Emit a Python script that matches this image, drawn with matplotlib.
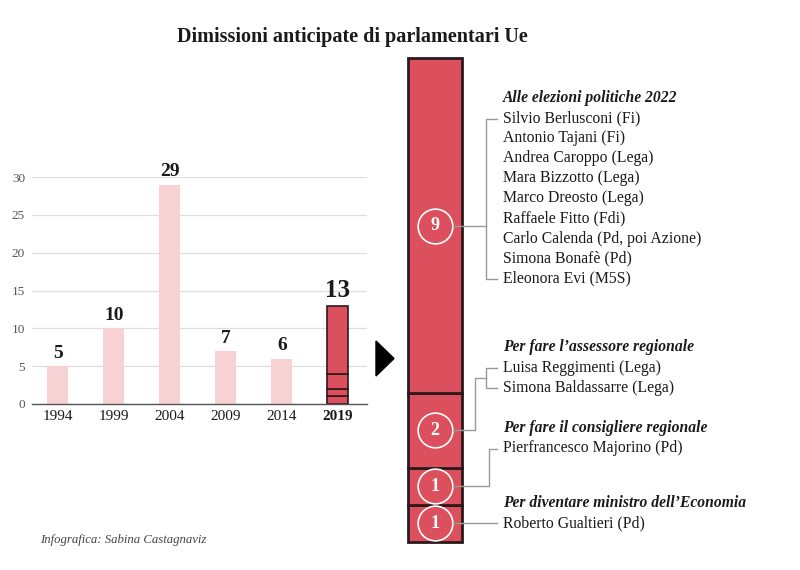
import matplotlib
matplotlib.use('Agg')
import matplotlib.pyplot as plt
from matplotlib.lines import Line2D
from matplotlib.patches import Polygon

# ---------------- data ----------------
years = ['1994', '1999', '2004', '2009', '2014', '2019']
dimissioni = [5, 10, 29, 7, 6, 13]
yticks = [0, 5, 10, 15, 20, 25, 30]

# 2019 breakdown, from bottom to top
motivi = ['Per diventare ministro dell\u2019Economia',
          'Per fare il consigliere regionale',
          'Per fare l\u2019assessore regionale',
          'Alle elezioni politiche 2022']
conteggi = [1, 1, 2, 9]
nomi = [
    ['Roberto Gualtieri (Pd)'],
    ['Pierfrancesco Majorino (Pd)'],
    ['Luisa Reggimenti (Lega)', 'Simona Baldassarre (Lega)'],
    ['Silvio Berlusconi (Fi)', 'Antonio Tajani (Fi)', 'Andrea Caroppo (Lega)',
     'Mara Bizzotto (Lega)', 'Marco Dreosto (Lega)', 'Raffaele Fitto (Fdi)',
     'Carlo Calenda (Pd, poi Azione)', 'Simona Bonaf\u00e8 (Pd)', 'Eleonora Evi (M5S)'],
]

title = 'Dimissioni anticipate di parlamentari Ue'
credit = 'Infografica: Sabina Castagnaviz'

# ---------------- style ----------------
PINK = '#f7d1d4'
RED = '#dc4f5d'
EDGE = '#2b1a1c'
GRID = '#dedede'
TXT = '#1a1a1a'
LINE = '#9a9a9a'
SERIF = ['Liberation Serif', 'DejaVu Serif']
plt.rcParams['font.family'] = SERIF

W, H = 800, 570
fig = plt.figure(figsize=(W / 100, H / 100), dpi=100)
fig.patch.set_facecolor('white')


def fx(x):
    return x / W


def fy(y):
    return 1 - y / H


# ---------------- left bar chart ----------------
ax = fig.add_axes([fx(32), fy(404), (367 - 32) / W, (404 - 177) / H])
xs = list(range(len(years)))
bw = 0.375
ax.bar(xs[:-1], dimissioni[:-1], width=bw, color=PINK, zorder=2)
bottom = 0
for c in conteggi:
    ax.bar(xs[-1], c, bottom=bottom, width=bw, color=RED, edgecolor=EDGE,
           linewidth=1.2, zorder=3)
    bottom += c
ax.set_xlim(-0.464, 5.518)
ax.set_ylim(0, 30)
ax.set_yticks(yticks)
ax.set_yticklabels([str(t) for t in yticks])
ax.yaxis.grid(True, color=GRID, linewidth=0.9, zorder=0)
ax.set_axisbelow(True)
for s in ['top', 'right', 'left']:
    ax.spines[s].set_visible(False)
ax.spines['bottom'].set_color('#555555')
ax.spines['bottom'].set_linewidth(1.0)
ax.spines['bottom'].set_zorder(4)
ax.tick_params(axis='y', length=0, pad=5, labelsize=9.5, labelcolor='#555555')
ax.tick_params(axis='x', length=0, pad=4.5, labelsize=11, labelcolor=TXT)
ax.set_xticks(xs)
ax.set_xticklabels(years)
ax.get_xticklabels()[-1].set_fontweight('bold')
for i, v in enumerate(dimissioni):
    last = i == len(dimissioni) - 1
    ax.annotate(str(v), (xs[i], v), xytext=(0, 6), textcoords='offset points',
                ha='center', va='baseline', fontweight='bold',
                fontsize=18 if last else 14, color=TXT, annotation_clip=False)

# ---------------- right stacked bar ----------------
ax2 = fig.add_axes([fx(408), fy(542), 54 / W, (542 - 58) / H])
ax2.set_xlim(-0.5, 0.5)
ax2.set_ylim(0, sum(conteggi))
ax2.axis('off')
centers = []
bottom = 0
for c in conteggi:
    ax2.bar(0, c, bottom=bottom, width=1.0, color=RED, edgecolor=EDGE,
            linewidth=2.0, clip_on=False)
    centers.append(bottom + c / 2)
    bottom += c
for c, yc in zip(conteggi, centers):
    ax2.plot(0, yc, 'o', ms=25, mfc='none', mec='white', mew=1.2, clip_on=False)
    ax2.text(0, yc, str(c), ha='center', va='center', color='white',
             fontweight='bold', fontsize=13)

# arrow triangle
fig.patches.append(Polygon([(fx(376), fy(341)), (fx(376), fy(376)), (fx(394), fy(358.5))],
                           closed=True, transform=fig.transFigure, color='black'))

# ---------------- annotations ----------------
TX = 503
heading_y = [503, 428, 347, 98]   # per group (bottom to top order)
row = 20


def px_of(y_data):
    # pixel y (from top) of a data value on ax2
    disp = ax2.transData.transform((0, y_data))
    return H - disp[1] * 100 / fig.dpi


def fline(xs_, ys_):
    fig.lines.append(Line2D([fx(x) for x in xs_], [fy(y) for y in ys_],
                            transform=fig.transFigure, color=LINE, linewidth=1.0))


circle_right = 453
for g, (mot, names, hy) in enumerate(zip(motivi, nomi, heading_y)):
    fig.text(fx(TX), fy(hy), mot, ha='left', va='center', fontsize=11.25,
             fontweight='bold', fontstyle='italic', color=TXT)
    name_ys = [hy + 20.5 + k * row for k in range(len(names))]
    for n, ny in zip(names, name_ys):
        fig.text(fx(TX), fy(ny), n, ha='left', va='center', fontsize=11.3, color=TXT)
    cy = px_of(centers[g])
    if len(names) == 1:
        if abs(cy - name_ys[0]) < 3:
            fline([circle_right, 497], [cy, cy])
        else:
            fline([circle_right, 489, 489, 497], [cy, cy, name_ys[0], name_ys[0]])
    else:
        top, bot = name_ys[0], name_ys[-1]
        fline([497, 486, 486, 497], [top, top, bot, bot])
        if top <= cy <= bot:
            fline([circle_right, 486], [cy, cy])
        else:
            mid = (top + bot) / 2
            fline([circle_right, 475, 475, 486], [cy, cy, mid, mid])

# ---------------- titles ----------------
fig.text(fx(352), fy(37), title, ha='center', va='center', fontsize=14.5,
         fontweight='bold', color=TXT)
fig.text(fx(40), fy(540), credit, ha='left', va='center', fontsize=9.2,
         fontstyle='italic', color='#444444')

fig.savefig('out.png', dpi=100, facecolor='white')
